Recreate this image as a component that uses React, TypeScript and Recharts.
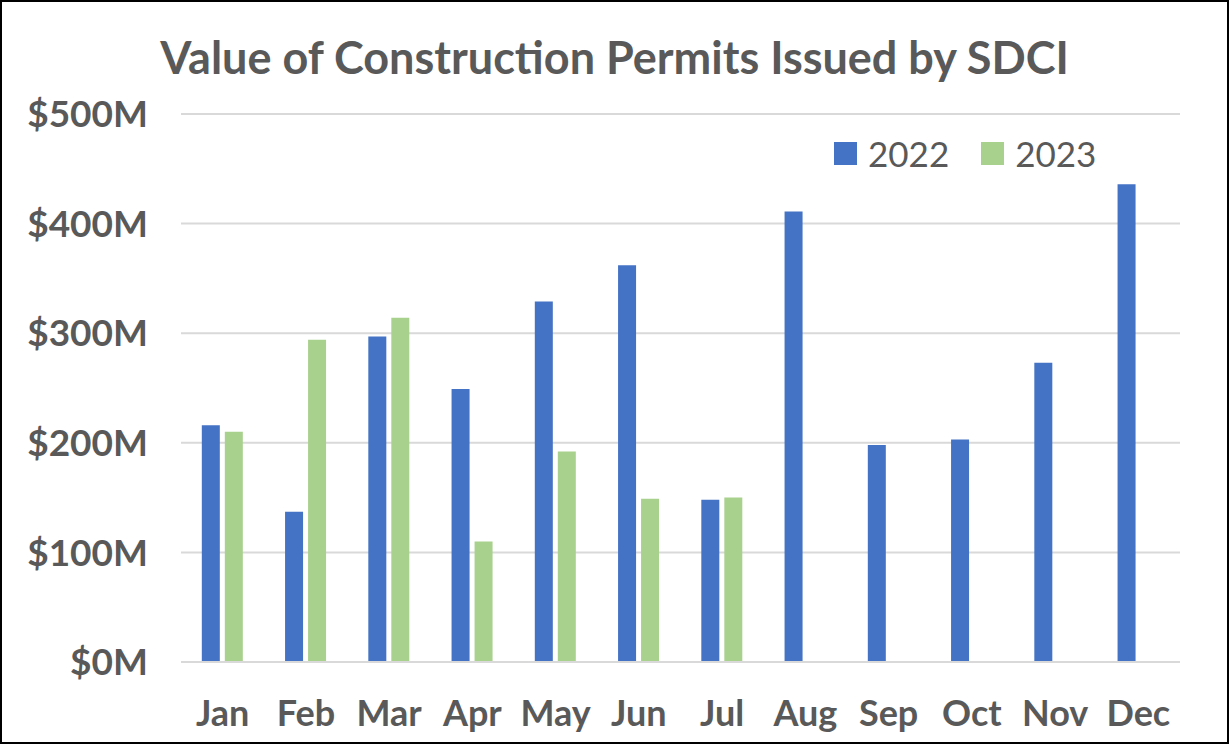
import React from 'react';
import { BarChart, Bar, XAxis, YAxis, CartesianGrid, Legend } from 'recharts';

// values in $M
const months = ['Jan', 'Feb', 'Mar', 'Apr', 'May', 'Jun', 'Jul', 'Aug', 'Sep', 'Oct', 'Nov', 'Dec'];
const values2022 = [216, 137, 297, 249, 329, 362, 148, 411, 198, 203, 273, 436];
const values2023: (number | null)[] = [210, 294, 314, 110, 192, 149, 150, null, null, null, null, null];
const yTicks = [0, 100, 200, 300, 400, 500];

const FONT = 'Lato, "Open Sans", sans-serif';
const TEXT = '#595959';

const data = months.map((m, i) => ({ month: m, y2022: values2022[i], y2023: values2023[i] }));

// eslint-disable-next-line @typescript-eslint/no-explicit-any
const renderLegend = (props: any) => {
    const { payload } = props;
    return (
        <div style={{ display: 'flex', alignItems: 'center', fontFamily: FONT }}>
            {payload.map((entry: { value: string; color: string }, i: number) => (
                <div key={entry.value} style={{ display: 'flex', alignItems: 'center', marginRight: i === 0 ? 32 : 0 }}>
                    <span style={{ width: 23, height: 23, background: entry.color, display: 'inline-block', marginRight: 11 }} />
                    <span style={{ fontSize: 35, color: TEXT, lineHeight: '40px' }}>{entry.value}</span>
                </div>
            ))}
        </div>
    );
};

export default function App() {
    return (
        <div style={{ position: 'absolute', top: 0, left: 0, width: 1229, height: 744, background: '#fff', fontFamily: FONT }}>
            <div
                style={{
                    position: 'absolute', top: 27, left: 0, width: 1229, textAlign: 'center',
                    fontSize: 45, fontWeight: 700, color: TEXT, lineHeight: '60px',
                }}
            >
                Value of Construction Permits Issued by SDCI
            </div>
            <BarChart
                width={1229}
                height={744}
                data={data}
                margin={{ top: 114, right: 49, bottom: 0, left: 0 }}
                barCategoryGap="25%"
                barGap={5}
            >
                <CartesianGrid vertical={false} stroke="#d9d9d9" strokeWidth={2} />
                <XAxis
                    dataKey="month"
                    height={82}
                    axisLine={{ stroke: '#d9d9d9', strokeWidth: 2 }}
                    tickLine={false}
                    tickSize={0}
                    tickMargin={38}
                    tick={{ fill: TEXT, fontSize: 36, fontWeight: 700, fontFamily: FONT }}
                    interval={0}
                />
                <YAxis
                    width={181}
                    domain={[0, 500]}
                    ticks={yTicks}
                    axisLine={false}
                    tickLine={false}
                    tickSize={0}
                    tickMargin={33}
                    tickFormatter={(v: number) => `$${v}M`}
                    tick={{ fill: TEXT, fontSize: 37, fontWeight: 700, fontFamily: FONT }}
                />
                <Legend
                    layout="horizontal"
                    verticalAlign="middle"
                    align="center"
                    content={renderLegend}
                    wrapperStyle={{ top: 133, left: 834, width: 'auto' }}
                />
                <Bar dataKey="y2022" name="2022" fill="#4472C4" isAnimationActive={false} />
                <Bar dataKey="y2023" name="2023" fill="#A9D18E" isAnimationActive={false} />
            </BarChart>
            <div style={{ position: 'absolute', inset: 0, border: '2px solid #000', pointerEvents: 'none' }} />
        </div>
    );
}
